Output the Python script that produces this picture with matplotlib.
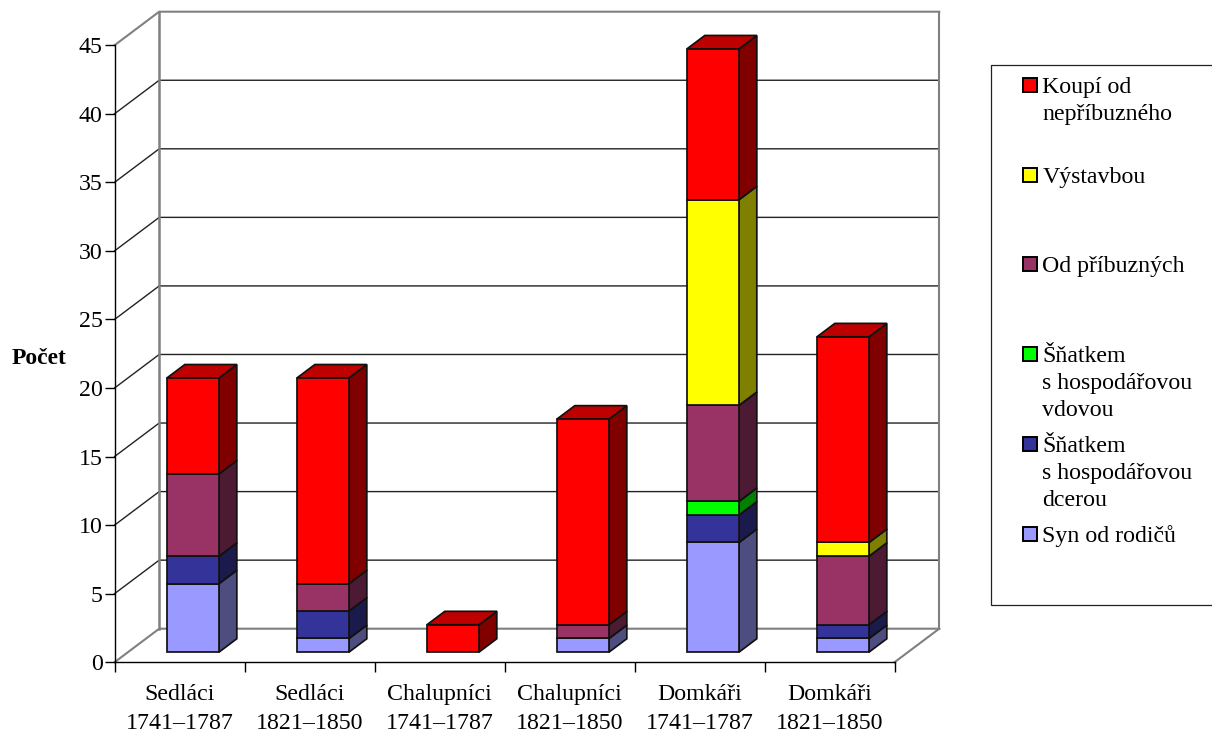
import matplotlib
matplotlib.use("Agg")
import matplotlib.pyplot as plt
from matplotlib.patches import Polygon, Rectangle
from matplotlib.colors import to_rgb

plt.rcParams['font.family'] = ['Liberation Serif', 'DejaVu Serif']

categories = ["Sedláci\n1741–1787", "Sedláci\n1821–1850", "Chalupníci\n1741–1787",
              "Chalupníci\n1821–1850", "Domkáři\n1741–1787", "Domkáři\n1821–1850"]
syn_od_rodicu = [5, 1, 0, 1, 8, 1]
s_dcerou = [2, 2, 0, 0, 2, 1]
s_vdovou = [0, 0, 0, 0, 1, 0]
od_pribuznych = [6, 2, 0, 1, 7, 5]
vystavbou = [0, 0, 0, 0, 15, 1]
koupi = [7, 15, 2, 15, 11, 15]
yticks = [0, 5, 10, 15, 20, 25, 30, 35, 40, 45]

series = [
    (syn_od_rodicu, "#9999FF", "Syn od rodičů"),
    (s_dcerou, "#333399", "Šňatkem\ns hospodářovou\ndcerou"),
    (s_vdovou, "#00FF00", "Šňatkem\ns hospodářovou\nvdovou"),
    (od_pribuznych, "#993366", "Od příbuzných"),
    (vystavbou, "#FFFF00", "Výstavbou"),
    (koupi, "#FF0000", "Koupí od\nnepříbuzného"),
]

W, H = 1212, 735
fig = plt.figure(figsize=(W / 100, H / 100), dpi=100, facecolor="white")
L, R, T, B = 114.6, 894.6, 45.2, 662.2
ax = fig.add_axes([L / W, 1 - B / H, (R - L) / W, (B - T) / H])
ax.set_xlim(0, 6)
ax.set_ylim(0, 45)
ax.patch.set_visible(False)

# depth of the pseudo-3D box, in data units
DX = 44.6 / 130
DY = 33.5 / (617 / 45)
GRAY = "#808080"
LW = 1.0
FS = 17.2


def line(xs, ys, color="black", lw=LW, z=1):
    ax.plot(xs, ys, color=color, lw=lw, clip_on=False, zorder=z, solid_capstyle="projecting")


for v in yticks:
    col, w = (GRAY, 1.5) if v in (0, 45) else ("#222222", LW)
    line([0, DX, 6 + DX], [v, v + DY, v + DY], col, w)
    if v == 0:
        line([6, 6 + DX], [0, DY], GRAY, 1.5)
line([DX, DX], [DY, 45 + DY], GRAY, 1.8)
line([6 + DX, 6 + DX], [DY, 45 + DY], GRAY, 1.5)


def shade(c, f):
    return tuple(x * f for x in to_rgb(c))


BAR_W = 0.4
F0 = 0.3
BD = 0.4
for i in range(len(categories)):
    x0 = i + 0.3 + F0 * DX
    x1 = x0 + BAR_W
    base = F0 * DY
    bd_x, bd_y = BD * DX, BD * DY
    vals = [(s[0][i], s[1]) for s in series if s[0][i] > 0]
    for k, (val, col) in enumerate(vals):
        y0, y1 = base, base + val
        base = y1
        z = 3 + i + k / 10
        ek = dict(edgecolor="#111111", lw=1.25, clip_on=False, zorder=z, joinstyle="miter")
        ax.add_patch(Polygon([(x1, y0), (x1 + bd_x, y0 + bd_y), (x1 + bd_x, y1 + bd_y), (x1, y1)],
                             facecolor=shade(col, 0.5), **ek))
        ax.add_patch(Polygon([(x0, y1), (x1, y1), (x1 + bd_x, y1 + bd_y), (x0 + bd_x, y1 + bd_y)],
                             facecolor=shade(col, 0.75), **ek))
        ax.add_patch(Polygon([(x0, y0), (x1, y0), (x1, y1), (x0, y1)], facecolor=col, **ek))

for s in ("top", "right"):
    ax.spines[s].set_visible(False)
for s in ("left", "bottom"):
    ax.spines[s].set_linewidth(LW)

ax.set_yticks(yticks)
ax.tick_params(axis="y", length=7, width=LW, labelsize=FS, pad=1.5)
ax.set_xticks(range(7))
ax.set_xticklabels([])
ax.tick_params(axis="x", which="major", length=7, width=LW)
ax.set_xticks([i + 0.5 for i in range(6)], minor=True)
ax.set_xticklabels(categories, minor=True, fontsize=FS, linespacing=1.5)
ax.tick_params(axis="x", which="minor", length=0, pad=16)

ax.set_ylabel("Počet", rotation=0, fontsize=17, fontweight="bold", ha="right", va="center")
ax.yaxis.set_label_coords(-48 / 780, (662.2 - 359) / 617)

# legend in pixel coordinates
lg = fig.add_axes([0, 0, 1, 1])
lg.set_xlim(0, W)
lg.set_ylim(H, 0)
lg.axis("off")
lg.patch.set_visible(False)
lg.add_patch(Rectangle((990.5, 65), 240, 540, fill=False, edgecolor="#222222", lw=0.9))
legend_y = [534, 444, 354, 264, 175, 85]
for (vals, col, label), y in zip(series, legend_y):
    lg.add_patch(Rectangle((1023, y - 7), 14, 14, facecolor=col, edgecolor="black", lw=1.4))
    lines = label.split("\n")
    for j, t in enumerate(lines):
        lg.text(1042.5, y + j * 27, t, fontsize=FS, va="center_baseline", ha="left", color="black")

fig.savefig("out.png", dpi=100, facecolor="white")
